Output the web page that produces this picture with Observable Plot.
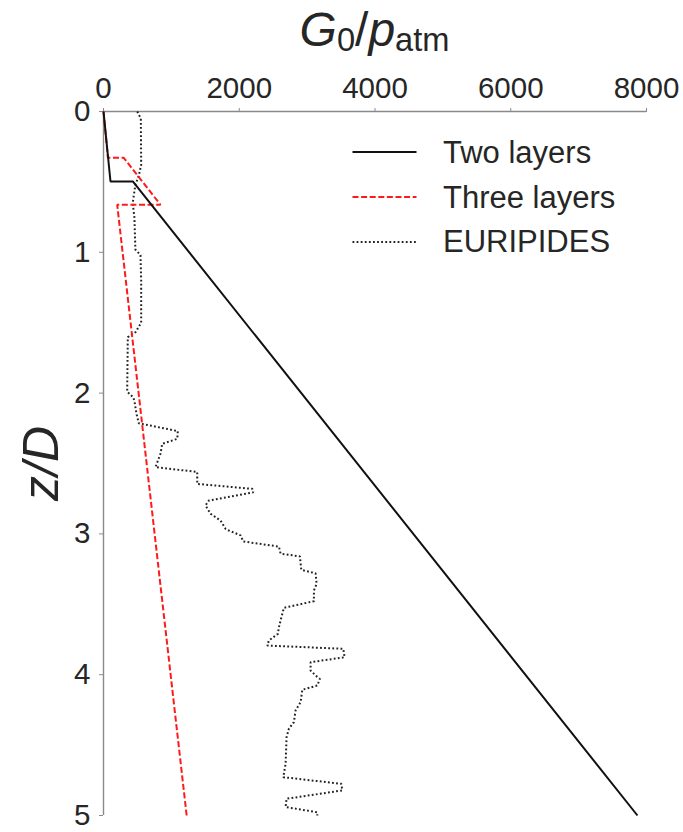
<!DOCTYPE html>
<html><head><meta charset="utf-8">
<script src="https://cdn.jsdelivr.net/npm/d3@7"></script>
<script src="https://cdn.jsdelivr.net/npm/@observablehq/plot@0.6"></script>
<style>
body{margin:0;background:#fff;font-family:"Liberation Sans",Arial,sans-serif;}
#wrap{position:relative;width:683px;height:832px;overflow:hidden;}
#title{position:relative;height:65px;width:683px;}
#title .t{position:absolute;left:103px;width:543px;top:6px;text-align:center;font-size:48px;line-height:1;color:#262626;white-space:nowrap;}
.sub{font-size:0.68em;position:relative;top:0.16em;}
#legend{position:absolute;left:0;top:0;width:683px;height:832px;pointer-events:none;}
.lrow{position:absolute;font-size:31px;line-height:1;color:#262626;white-space:nowrap;}
</style>
</head><body>
<div id="wrap">
  <div id="title"><div class="t"><i>G</i><span class="sub">0</span>/<i>p</i><span class="sub">atm</span></div></div>
  <div id="chart"></div>
  <div id="legend"></div>
</div>
<script>
// ---- data ----
const xTicks = [0, 2000, 4000, 6000, 8000];
const yTicks = [0, 1, 2, 3, 4, 5];
const yLabel = ["z/D"];

const seriesNames = ["Two layers", "Three layers", "EURIPIDES"];

const twoLayersG = [0, 103, 432, 7867];
const twoLayersZ = [0, 0.497, 0.497, 5];

const threeLayersG = [0, 65, 299, 840, 202, 1225];
const threeLayersZ = [0, 0.329, 0.329, 0.663, 0.663, 5];

const euripidesG = [497, 550, 555, 520, 470, 430, 455, 470, 545, 555, 555, 472, 358, 349, 438, 457, 486, 520,
  1095, 1086, 865, 840, 766, 1381, 1381, 2192, 2207, 1552, 1503, 1577, 1725, 1798, 1847, 2019, 2059, 2584,
  2609, 2894, 2914, 3125, 3140, 3100, 3100, 2658, 2619, 2584, 2569, 2437, 2413, 3533, 3552, 3051, 3051,
  3125, 3188, 3150, 2929, 2904, 2830, 2805, 2731, 2697, 2683, 2649, 3504, 3518, 2697, 2683, 3150, 3150];
const euripidesZ = [0, 0.05, 0.38, 0.455, 0.52, 0.65, 0.75, 0.98, 1.02, 1.2, 1.5, 1.567, 1.603, 1.99, 2.03, 2.06, 2.147, 2.214,
  2.27, 2.325, 2.36, 2.43, 2.526, 2.56, 2.645, 2.68, 2.705, 2.763, 2.798, 2.857, 2.905, 2.964, 2.976, 3.01, 3.054, 3.09,
  3.14, 3.16, 3.255, 3.28, 3.355, 3.402, 3.478, 3.525, 3.596, 3.663, 3.71, 3.757, 3.793, 3.816, 3.876, 3.911, 3.97,
  4.006, 4.03, 4.077, 4.107, 4.195, 4.254, 4.337, 4.384, 4.444, 4.633, 4.728, 4.775, 4.822, 4.881, 4.94, 4.977, 5.0];

// ---- tables ----
const toRows = (G, Z) => G.map((g, i) => ({g, z: Z[i]}));
const two = toRows(twoLayersG, twoLayersZ);
const three = toRows(threeLayersG, threeLayersZ);
const eur = toRows(euripidesG, euripidesZ);

const styles = [
  {stroke: "#111", strokeWidth: 2, strokeDasharray: null},
  {stroke: "#ff1a1a", strokeWidth: 2, strokeDasharray: "6,2.6"},
  {stroke: "#222", strokeWidth: 2, strokeDasharray: "1.8,2.3"}
];

const axisColor = "#8a8a8a";
const textColor = "#262626";

const plot = Plot.plot({
  width: 683, height: 767,
  marginTop: 46, marginLeft: 103, marginRight: 37, marginBottom: 17,
  style: {fontFamily: "'Liberation Sans', Arial, sans-serif", background: "white", color: textColor, overflow: "visible"},
  x: {domain: [0, 8000], label: null, axis: null},
  y: {domain: [0, 5], reverse: true, label: null, axis: null},
  marks: [
    Plot.axisX({ticks: xTicks, anchor: "top", tickSize: 4, tickPadding: 10, stroke: axisColor, fill: textColor,
      fontSize: 29.5, label: null, tickFormat: d3.format("d")}),
    Plot.axisY({ticks: yTicks, anchor: "left", tickSize: 4, tickPadding: 9, stroke: axisColor, fill: textColor,
      fontSize: 29.5, label: null, tickFormat: d3.format("d")}),
    Plot.ruleY([0], {stroke: axisColor, strokeWidth: 1.4}),
    Plot.ruleX([0], {stroke: axisColor, strokeWidth: 1.4}),
    Plot.text(yLabel, {frameAnchor: "left", dx: -62, rotate: -90, textAnchor: "middle", lineAnchor: "middle",
      fontSize: 50, fontStyle: "italic", fill: textColor}),
    Plot.line(eur, {x: "g", y: "z", ...styles[2], strokeLinecap: "butt", strokeLinejoin: "miter"}),
    Plot.line(three, {x: "g", y: "z", ...styles[1], strokeLinecap: "butt", strokeLinejoin: "miter"}),
    Plot.line(two, {x: "g", y: "z", ...styles[0], strokeLinecap: "butt", strokeLinejoin: "miter"})
  ]
});
document.getElementById("chart").appendChild(plot);

// ---- legend (HTML overlay) ----
const legend = d3.select("#legend");
const rowY0 = 152, rowStep = 44.8;
seriesNames.forEach((name, i) => {
  const y = rowY0 + i * rowStep;
  const s = styles[i];
  const svg = legend.append("svg")
    .style("position", "absolute").style("left", "352px").style("top", (y - 5) + "px")
    .attr("width", 66).attr("height", 10);
  svg.append("line").attr("x1", 0.5).attr("x2", 64.5).attr("y1", 5).attr("y2", 5)
    .attr("stroke", s.stroke).attr("stroke-width", s.strokeWidth)
    .attr("stroke-dasharray", s.strokeDasharray);
  legend.append("div").attr("class", "lrow")
    .style("left", "443px").style("top", (y + 11 - 26.2) + "px")
    .text(name);
});
</script>
</body></html>
